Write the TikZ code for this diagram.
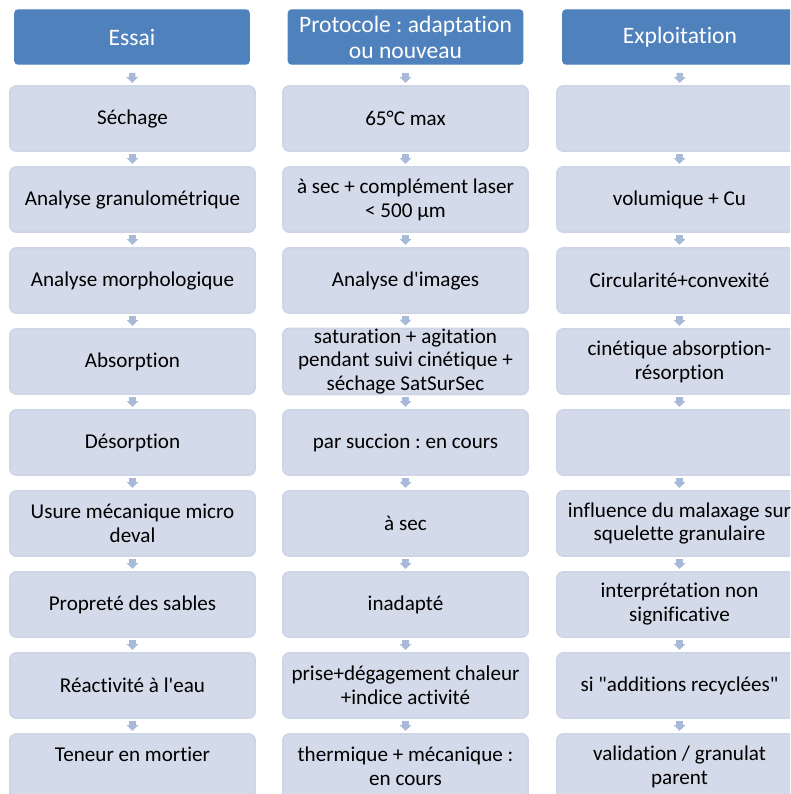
\documentclass[tikz,border=0pt]{standalone}
\usepackage{fontspec}
\setmainfont{Carlito}
\newfontfamily\calib{Carlito}[Ligatures=NoCommon]
\usetikzlibrary{arrows.meta,positioning}
\definecolor{hdrblue}{HTML}{4F81BD}
\definecolor{celfill}{HTML}{D3DAE9}
\definecolor{celedge}{HTML}{CDD5E7}
\definecolor{arrblue}{HTML}{A9B9D8}
\tikzset{
  hdr/.style={draw=hdrblue, fill=hdrblue, rounded corners=.9pt, text=white, align=center, inner sep=0pt, minimum width=2.34cm, minimum height=.54cm, font=\calib\fontsize{6.7}{7.4}\selectfont},
  cel/.style={draw=celedge, line width=.5pt, fill=celfill, rounded corners=1.8pt, align=center, inner sep=0pt, minimum width=2.45cm, minimum height=.65cm, font=\calib\fontsize{6}{6.8}\selectfont},
  dn/.style={-{Triangle[width=3.3pt, length=1.7pt]}, line width=1.8pt, draw=arrblue, shorten <=.6pt, shorten >=.6pt},
  dnh/.style={dn, shorten <=2.3pt},
}
\frenchspacing
\begin{document}
\begin{tikzpicture}[x=0.01cm, y=-0.01cm]
    \useasboundingbox (0,0) rectangle (790,794);
    \clip (0,0) rectangle (790,794);

    % en-tetes
    \node[hdr] (e0) at (132,37) {Essai};
    \node[hdr] (p0) at (405.5,37) {Protocole : adaptation\\ou nouveau};
    \node[hdr] (x0) at (680,37) {Exploitation};

    % essais
    \node[cel] (e1) at (132.5,118.5) {Séchage};
    \node[cel] (e2) at (132.5,199.5) {Analyse granulométrique};
    \node[cel] (e3) at (132.5,280.5) {Analyse morphologique};
    \node[cel] (e4) at (132.5,361.5) {Absorption};
    \node[cel] (e5) at (132.5,442.5) {Désorption};
    \node[cel] (e6) at (132.5,523.5) {Usure mécanique micro\\deval};
    \node[cel] (e7) at (132.5,604.5) {Propreté des sables};
    \node[cel] (e8) at (132.5,685.5) {Réactivité à l'eau};
    \node[cel] (e9) at (132.5,766.5) {Teneur en mortier\\\mbox{}};

    % protocoles
    \node[cel] (p1) at (405.5,118.5) {65°C max};
    \node[cel] (p2) at (405.5,199.5) {à sec + complément laser\\< 500 µm};
    \node[cel] (p3) at (405.5,280.5) {Analyse d'images};
    \node[cel] (p4) at (405.5,361.5) {saturation + agitation\\pendant suivi cinétique +\\séchage SatSurSec};
    \node[cel] (p5) at (405.5,442.5) {par succion : en cours};
    \node[cel] (p6) at (405.5,523.5) {à sec};
    \node[cel] (p7) at (405.5,604.5) {inadapté};
    \node[cel] (p8) at (405.5,685.5) {prise+dégagement chaleur\\+indice activité};
    \node[cel] (p9) at (405.5,766.5) {thermique + mécanique :\\en cours};

    % exploitation
    \node[cel] (x1) at (679.5,118.5) {};
    \node[cel] (x2) at (679.5,199.5) {volumique + Cu};
    \node[cel] (x3) at (679.5,280.5) {Circularité+convexité};
    \node[cel] (x4) at (679.5,361.5) {cinétique absorption-\\résorption};
    \node[cel] (x5) at (679.5,442.5) {};
    \node[cel] (x6) at (679.5,523.5) {influence du malaxage sur\\squelette granulaire};
    \node[cel] (x7) at (679.5,604.5) {interprétation non\\significative};
    \node[cel] (x8) at (679.5,685.5) {si "additions recyclées"};
    \node[cel] (x9) at (679.5,766.5) {validation / granulat\\parent};

    % fleches
    \foreach \c in {e,p,x}{
      \draw[dnh] (\c0) -- (\c1);
      \foreach \i [count=\j from 2] in {1,...,8}{
        \draw[dn] (\c\i) -- (\c\j);
      }
    }
\end{tikzpicture}
\end{document}
